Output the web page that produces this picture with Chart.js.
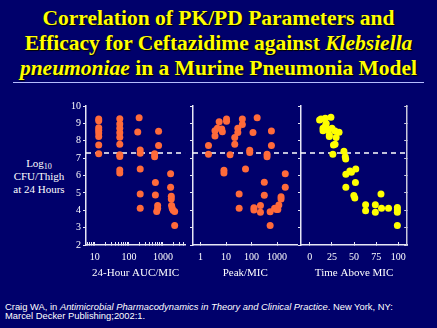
<!DOCTYPE html>
<html>
<head>
<meta charset="utf-8">
<script src="https://cdn.jsdelivr.net/npm/chart.js@4.4.1/dist/chart.umd.min.js"></script>
<style>
    body { margin: 0; width: 437px; height: 328px; background: #00006b; overflow: hidden; position: relative; font-family: "Liberation Serif", "Times New Roman", "DejaVu Serif", serif; }
    #title { position: absolute; left: 0; top: 6px; width: 437px; text-align: center; color: #ffff00; font-family: "Liberation Serif", "Times New Roman", Tinos, "DejaVu Serif", serif; font-weight: bold; font-size: 21.5px; line-height: 25px; text-shadow: 1px 1px 1px #000; }
    #rule { position: absolute; left: 13px; top: 82px; width: 411px; height: 1px; background: #b4bcff; }
    #ytitle { position: absolute; left: 0; top: 157px; width: 78px; text-align: center; color: #fff; font-size: 11px; line-height: 13px; }
    #ytitle sub { font-size: 8px; line-height: 0; vertical-align: -2px; }
    #footer { position: absolute; left: 5px; top: 303px; color: #fff; font-family: "Liberation Sans", sans-serif; font-size: 9.4px; line-height: 8.8px; }
    canvas { position: absolute; }
    #aucChart { left: 50px; top: 96px; }
    #peakChart { left: 183px; top: 96px; }
    #timeChart { left: 291px; top: 96px; }
</style>
</head>
<body>
<div id="title">Correlation of PK/PD Parameters and<br>Efficacy for Ceftazidime against <i>Klebsiella</i><br><i>pneumoniae</i> in a Murine Pneumonia Model</div>
<div id="rule"></div>
<div id="ytitle">Log<sub>10</sub><br>CFU/Thigh<br>at 24 Hours</div>
<canvas id="aucChart" width="143" height="190"></canvas>
<canvas id="peakChart" width="118" height="190"></canvas>
<canvas id="timeChart" width="125" height="190"></canvas>
<div id="footer">Craig WA, in <i>Antimicrobial Pharmacodynamics in Theory and Clinical Practice</i>. New York, NY:<br>Marcel Decker Publishing;2002:1.</div>

<script>
// Shared y axis (log10 CFU/thigh) and the static line
const yTicks = [2, 3, 4, 5, 6, 7, 8, 9, 10];
const staticLevel = 7.3;

// 24-hour AUC/MIC panel
const aucX = [13, 13, 13, 13, 13, 13, 13, 13,
    54, 54, 54, 54, 54, 54, 54, 54, 54, 54,
    200, 182, 215, 215, 215, 215, 215,
    745, 745, 570, 570, 600, 600, 700, 700, 656,
    1680, 1680, 1760, 1760, 1790, 1870, 1990, 2210, 2210];
const aucY = [9.25, 9.15, 8.75, 8.6, 8.45, 8.25, 7.75, 7.25,
    9.27, 8.96, 8.72, 8.46, 8.2, 7.8, 7.2, 7.1, 6.32, 6.15,
    9.33, 8.5, 7.47, 7.28, 6.37, 4.93, 4.12,
    8.55, 7.72, 7.25, 7.08, 5.6, 4.88, 4.28, 4.1, 3.93,
    6.1, 5.33, 4.8, 4.65, 4.28, 4.12, 4.0, 3.93, 3.12];
const aucLabels = [10, 100, 1000];
const aucRange = [5.5, 4500];

// Peak/MIC panel
const peakX = [2.06, 2.06, 3.7, 3.7, 5.4, 4.6, 6.8, 7.2, 10.5, 10.5, 8.3, 8.3, 14.4, 22, 22, 29, 29,
    43.6, 43.6, 32.7, 32.7, 58, 85, 85, 114, 166, 124, 124, 223, 223, 316, 316, 405, 405,
    600, 600, 535, 535, 800, 950, 1070, 1170, 1430, 1430, 2090, 2090];
const peakY = [7.72, 7.22, 8.58, 8.28, 9.1, 8.72, 8.68, 8.52, 9.25, 9.12, 6.3, 6.15, 7.2, 8.18, 7.8, 8.72, 8.48,
    9.25, 8.93, 4.93, 4.12, 6.37, 7.45, 7.32, 8.48, 9.32, 4.14, 4.02, 4.28, 3.89, 5.61, 4.87, 7.22, 7.08,
    8.56, 7.72, 3.92, 3.12, 4.12, 4.05, 4.05, 4.3, 4.78, 4.65, 6.1, 5.33];
const peakLabels = [1, 10, 100, 1000];
const peakRange = [0.51, 6300];

// Time above MIC panel
const timeX = [11, 12.6, 17.4, 23.8, 14.9, 14.9, 17.7, 18.5, 21, 22, 22, 25, 28.5, 33, 29.7, 26.7, 28.5, 26,
    38.5, 40, 40.5, 40.7, 45.2, 47, 51.9, 40.7, 51.5, 49.7, 50.8, 63, 63, 74, 74, 80.4, 81, 88.9,
    98.9, 98.9, 98.9, 98.9];
const timeY = [9.2, 9.25, 9.3, 9.35, 8.72, 8.58, 8.87, 9.0, 8.62, 8.33, 8.24, 8.72, 8.56, 8.49, 8.18, 7.76, 7.8, 7.22,
    7.4, 7.08, 6.95, 6.07, 6.26, 6.19, 6.38, 5.33, 5.6, 4.85, 4.7, 4.31, 3.97, 4.31, 3.89, 4.94, 4.12, 4.12,
    4.16, 4.02, 3.89, 3.12];
const timeLabels = [0, 25, 50, 75, 100];
const timeRange = [-10, 110];

const orange = '#ff6a3a';
const yellow = '#ffff00';
const axisColor = '#e6e6f5';
const tickFont = { family: 'Liberation Serif', size: 10 };
const titleFont = { family: 'Liberation Serif', size: 11 };

// minor ticks for the AUC log axis (1..9 of each decade)
function logTicks(range) {
    let out = [];
    for (let d = 0.1; d <= 10000; d *= 10) {
        for (let m = 1; m < 10; m++) {
            const v = Math.round(m * d * 1000) / 1000;
            if (v >= range[0] && v <= range[1]) out.push(v);
        }
    }
    return out;
}

function makePanel(id, xs, ys, color, opts) {
    const points = xs.map((x, i) => ({ x: x, y: ys[i] }));
    const scales = {
        x: {
            type: opts.type,
            min: opts.range[0],
            max: opts.range[1],
            afterBuildTicks: s => { s.ticks = opts.tickValues.map(v => ({ value: v })); },
            afterFit: s => { s.height = 41; },
            grid: { drawOnChartArea: false, drawTicks: true, tickLength: -3, color: axisColor, lineWidth: 1 },
            border: { color: axisColor, width: 1.5 },
            ticks: {
                color: '#fff', font: tickFont, padding: 9.5, maxRotation: 0, autoSkip: false,
                callback: v => opts.labels.includes(v) ? String(v) : ''
            },
            title: { display: true, text: opts.title, color: '#fff', font: titleFont, padding: { top: 0, bottom: 6 } }
        },
        y: {
            min: 2, max: 10,
            afterBuildTicks: s => { s.ticks = yTicks.map(v => ({ value: v })); },
            afterFit: s => { s.width = opts.yWidth; },
            grid: { drawOnChartArea: false, drawTicks: true, tickLength: 3, color: axisColor, lineWidth: 1 },
            border: { color: axisColor, width: 1.5 },
            ticks: { display: opts.yLabels, color: '#fff', font: tickFont, padding: 2 }
        }
    };
    if (opts.rightAxis) {
        scales.y2 = {
            position: 'right',
            min: 2, max: 10,
            afterBuildTicks: s => { s.ticks = yTicks.map(v => ({ value: v })); },
            afterFit: s => { s.width = 8; },
            grid: { drawOnChartArea: false, drawTicks: true, tickLength: -3, color: '#c8c8dc', lineWidth: 1 },
            border: { color: '#c8c8dc', width: 1.5 },
            ticks: { display: false }
        };
    }
    return new Chart(document.getElementById(id).getContext('2d'), {
        type: 'scatter',
        data: {
            datasets: [{
                data: points,
                backgroundColor: color,
                borderWidth: 0,
                pointRadius: 3.5,
                pointHoverRadius: 3.5
            }, {
                type: 'line',
                data: [{ x: opts.range[0], y: staticLevel }, { x: opts.range[1], y: staticLevel }],
                borderColor: '#fff',
                borderWidth: 1.5,
                borderDash: [5, 4],
                pointRadius: 0,
                fill: false
            }]
        },
        options: {
            responsive: false,
            animation: false,
            layout: { padding: { top: 10, right: 0, bottom: 0, left: 0 } },
            plugins: { legend: { display: false }, tooltip: { enabled: false } },
            scales: scales
        }
    });
}

makePanel('aucChart', aucX, aucY, orange, {
    type: 'logarithmic', range: aucRange, tickValues: logTicks(aucRange), labels: aucLabels,
    title: '24-Hour AUC/MIC', yWidth: 36, yLabels: true
});
makePanel('peakChart', peakX, peakY, orange, {
    type: 'logarithmic', range: peakRange, tickValues: peakLabels, labels: peakLabels,
    title: 'Peak/MIC', yWidth: 10, yLabels: false
});
makePanel('timeChart', timeX, timeY, yellow, {
    type: 'linear', range: timeRange, tickValues: timeLabels, labels: timeLabels,
    title: 'Time Above MIC', yWidth: 10, yLabels: false, rightAxis: true
});
</script>
</body>
</html>
